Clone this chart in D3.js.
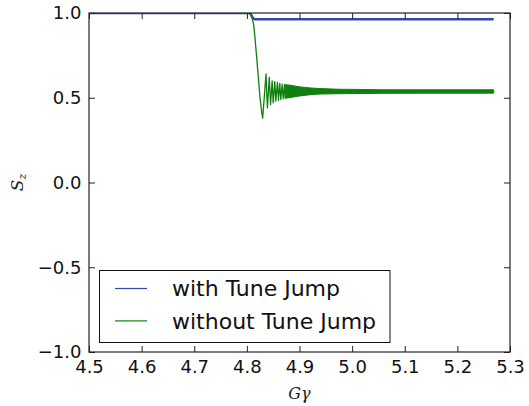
<!DOCTYPE html>
<html>
<head>
<meta charset="utf-8">
<script src="https://cdn.jsdelivr.net/npm/d3@7"></script>
<style>
  html, body { margin: 0; padding: 0; background: #fff; }
  svg { display: block; }
</style>
</head>
<body>
<svg id="chart" width="529" height="406"></svg>
<script>
// Spin component S_z versus G·gamma through the resonance crossing.
const xTicks = [4.5, 4.6, 4.7, 4.8, 4.9, 5.0, 5.1, 5.2, 5.3];
const yTicks = [-1.0, -0.5, 0.0, 0.5, 1.0];
const seriesNames = ["with Tune Jump", "without Tune Jump"];
const seriesColors = ["#3049ad", "#0e800e"];

// with Tune Jump: polarisation nearly preserved after crossing
const jumpG  = [4.50, 4.806, 4.809, 4.812, 4.815, 4.90, 5.00, 5.10, 5.20, 5.269];
const jumpSz = [1.000, 1.000, 0.985, 0.968, 0.963, 0.963, 0.963, 0.963, 0.963, 0.963];

// without Tune Jump: slow crossing, initial drop and first ringing
const freeG  = [4.50, 4.803, 4.806, 4.808, 4.810, 4.812, 4.8135, 4.8155, 4.818, 4.821, 4.825, 4.828, 4.830,
                4.8325, 4.8363, 4.839, 4.8426, 4.845, 4.848, 4.850, 4.853, 4.855, 4.858,
                4.860, 4.8625, 4.8645, 4.867, 4.869, 4.8715, 4.873];
const freeSz = [0.998, 0.998, 0.994, 0.985, 0.968, 0.945, 0.915, 0.850, 0.760, 0.650, 0.500, 0.420, 0.380,
                0.480, 0.640, 0.440, 0.620, 0.460, 0.600, 0.470, 0.595, 0.480, 0.590,
                0.485, 0.585, 0.490, 0.580, 0.494, 0.578, 0.496];

// without Tune Jump: envelope of the fast residual oscillation afterwards
const bandG     = [4.873, 4.882, 4.901, 4.920, 4.939, 4.977, 5.015, 5.053, 5.129, 5.205, 5.269];
const bandUpper = [0.577, 0.574, 0.564, 0.558, 0.554, 0.550, 0.549, 0.547, 0.547, 0.547, 0.547];
const bandLower = [0.497, 0.501, 0.511, 0.518, 0.522, 0.524, 0.525, 0.526, 0.527, 0.527, 0.527];

const W = 529, H = 406;
const margin = { top: 13, right: 19, bottom: 54, left: 89 };
const iw = W - margin.left - margin.right;
const ih = H - margin.top - margin.bottom;

const svg = d3.select("#chart");
const g = svg.append("g").attr("transform", `translate(${margin.left},${margin.top})`);

const x = d3.scaleLinear().domain([4.5, 5.3]).range([0, iw]);
const y = d3.scaleLinear().domain([-1, 1]).range([ih, 0]);

const plot = g.append("g");
plot.append("clipPath").attr("id", "clip")
  .append("rect").attr("width", iw).attr("height", ih);
const clipped = plot.append("g").attr("clip-path", "url(#clip)");

// with Tune Jump
clipped.append("path")
  .datum(d3.range(jumpG.length))
  .attr("fill", "none")
  .attr("stroke", seriesColors[0])
  .attr("stroke-width", 2.4)
  .attr("d", d3.line().x(i => x(jumpG[i])).y(i => y(jumpSz[i])));

// without Tune Jump: residual oscillation band
clipped.append("path")
  .datum(d3.range(bandG.length))
  .attr("fill", seriesColors[1])
  .attr("stroke", seriesColors[1])
  .attr("stroke-width", 1)
  .attr("d", d3.area().x(i => x(bandG[i])).y0(i => y(bandLower[i])).y1(i => y(bandUpper[i])));

// without Tune Jump: crossing trace
clipped.append("path")
  .datum(d3.range(freeG.length))
  .attr("fill", "none")
  .attr("stroke", seriesColors[1])
  .attr("stroke-width", 1.3)
  .attr("stroke-linejoin", "round")
  .attr("d", d3.line().x(i => x(freeG[i])).y(i => y(freeSz[i])));

// Axes with inward ticks on all four sides
const fmt = d3.format(".1f");
const tickFont = "DejaVu Sans, sans-serif";
const axB = g.append("g").attr("transform", `translate(0,${ih})`)
  .call(d3.axisBottom(x).tickValues(xTicks).tickFormat(fmt).tickSizeInner(-6).tickSizeOuter(0).tickPadding(8.5));
const axL = g.append("g")
  .call(d3.axisLeft(y).tickValues(yTicks).tickFormat(fmt).tickSizeInner(-6).tickSizeOuter(0).tickPadding(7.5));
const axT = g.append("g")
  .call(d3.axisTop(x).tickValues(xTicks).tickFormat("").tickSizeInner(-6).tickSizeOuter(0));
const axR = g.append("g").attr("transform", `translate(${iw},0)`)
  .call(d3.axisRight(y).tickValues(yTicks).tickFormat("").tickSizeInner(-6).tickSizeOuter(0));
[axB, axL, axT, axR].forEach(a => {
  a.select(".domain").remove();
  a.selectAll(".tick line").attr("stroke", "#222").attr("stroke-width", 1);
  a.selectAll(".tick text").attr("fill", "#111").style("font-family", tickFont).style("font-size", "18px");
});

// Frame
g.append("rect")
  .attr("x", 0).attr("y", 0).attr("width", iw).attr("height", ih)
  .attr("fill", "none").attr("stroke", "#222").attr("stroke-width", 1.2);

// Axis titles
const mathFont = "DejaVu Serif, serif";
svg.append("text")
  .attr("x", margin.left + iw / 2).attr("y", 399)
  .attr("text-anchor", "middle")
  .style("font-family", mathFont).style("font-style", "italic").style("font-size", "16px")
  .attr("fill", "#1a1a1a")
  .text("Gγ");

const yl = svg.append("text")
  .attr("transform", `translate(23,${margin.top + ih / 2}) rotate(-90)`)
  .attr("text-anchor", "middle")
  .style("font-family", mathFont).style("font-style", "italic").style("font-size", "17px")
  .attr("fill", "#1a1a1a");
yl.append("tspan").text("S");
yl.append("tspan").attr("dy", 3).style("font-size", "11px").text("z");

// Legend
const lg = svg.append("g").attr("transform", "translate(99.5,270.5)");
lg.append("rect").attr("width", 290.5).attr("height", 72)
  .attr("fill", "#fff").attr("stroke", "#111").attr("stroke-width", 1);
seriesNames.forEach((name, i) => {
  const cy = 18 + i * 32.4;
  lg.append("line")
    .attr("x1", 15.5).attr("x2", 47.5).attr("y1", cy).attr("y2", cy)
    .attr("stroke", seriesColors[i]).attr("stroke-width", 1.2);
  lg.append("text")
    .attr("x", 72.5).attr("y", cy + 7.8)
    .style("font-family", tickFont).style("font-size", "22px")
    .attr("fill", "#111")
    .text(name);
});
</script>
</body>
</html>
